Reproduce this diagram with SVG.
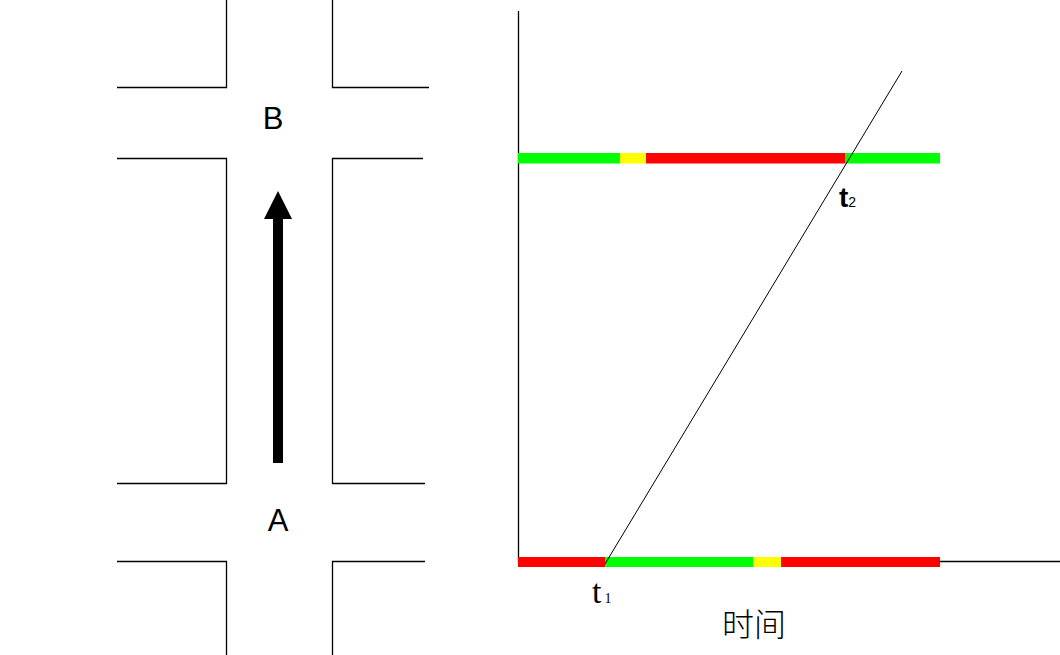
<svg xmlns="http://www.w3.org/2000/svg" width="1060" height="655" viewBox="0 0 1060 655">
<style>
.st{stroke:#000;stroke-width:1.3;fill:none}
.ax{stroke:#000;stroke-width:1.3;fill:none}
.lbl{font-family:"Liberation Sans",Arial,sans-serif;font-size:31px;fill:#000}
.g{fill:#00ff00}.y{fill:#ffff00}.r{fill:#ff0000}
</style>
<rect width="1060" height="655" fill="#fff"/>
<g id="streets">
<path class="st" d="M117 87.5H226.5V0M332.5 0V87.5H429"/>
<path class="st" d="M117 158.5H226.5V483.5H117M423 158.5H332.5V483.5H425"/>
<path class="st" d="M117 561.5H226.5V655M332.5 655V561.5H425"/>
</g>
<g id="node-B"><text class="lbl" x="273" y="129" text-anchor="middle">B</text></g>
<g id="node-A"><text class="lbl" x="278" y="531" text-anchor="middle">A</text></g>
<g id="arrow">
<rect x="273" y="218" width="10" height="245" fill="#000"/>
<polygon points="278,191 264,219 292,219" fill="#000"/>
</g>
<g id="axes">
<path class="ax" d="M518.5 11V561.5H1060"/>
</g>
<g id="signal-B">
<rect class="g" x="518" y="153" width="102" height="10.5"/>
<rect class="y" x="620" y="153" width="26" height="10.5"/>
<rect class="r" x="646" y="153" width="199" height="10.5"/>
<rect class="g" x="845" y="153" width="95" height="10.5"/>
</g>
<g id="signal-A">
<rect class="r" x="518" y="557" width="87" height="10"/>
<rect class="g" x="605" y="557" width="148" height="10"/>
<rect class="y" x="753" y="557" width="28" height="10"/>
<rect class="r" x="781" y="557" width="159" height="10"/>
</g>
<g id="connectors">
<line x1="605" y1="564" x2="902" y2="71" stroke="#000" stroke-width="1"/>
</g>
<g id="label-t2"><text x="839" y="207" font-family="'Liberation Sans',Arial,sans-serif" font-size="28" font-weight="bold">t<tspan font-size="14" font-weight="normal">2</tspan></text></g>
<g id="label-t1"><text x="592" y="603" font-family="'Liberation Serif','Times New Roman',serif" font-size="34" font-weight="normal">t<tspan font-size="14" dx="3">1</tspan></text></g>
<g id="label-time"><text x="722" y="636" font-family="'Noto Sans CJK SC','Noto Sans CJK JP',sans-serif" font-size="32" font-weight="300">时间</text></g>
</svg>
